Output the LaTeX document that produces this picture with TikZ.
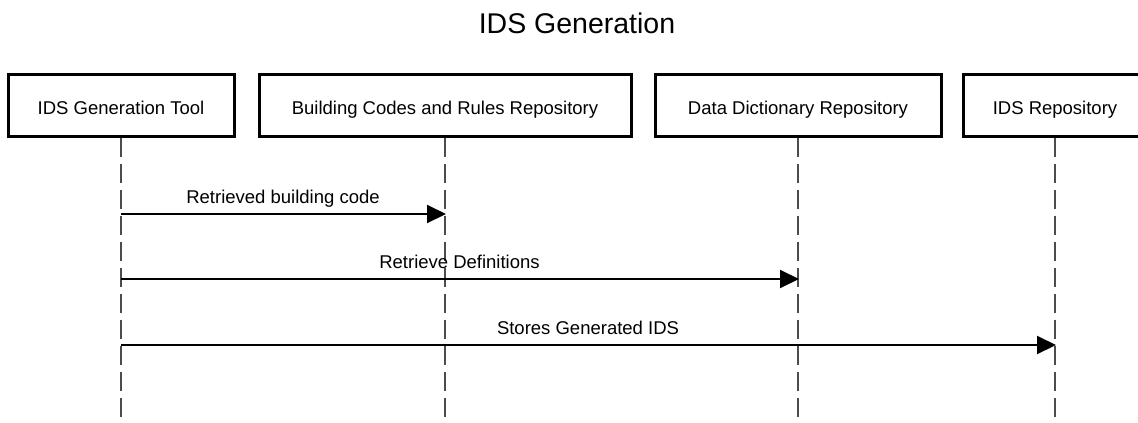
\documentclass[tikz,border=0pt]{standalone}
\usepackage{fontspec}
\setmainfont{Liberation Sans}
\usetikzlibrary{arrows.meta,positioning}

\tikzset{
	actor/.style={draw,line width=3pt,minimum height=62pt,inner sep=0pt,
		text height=18pt,text depth=0pt,font=\fontsize{18.5}{22}\selectfont},
	life/.style={draw=black!70,line width=2pt,dash pattern=on 19pt off 7pt},
	msg/.style={line width=2pt,-{Triangle[length=19pt,width=18pt]},shorten >=-1pt},
	msglabel/.style={above=10pt,inner sep=0pt,text depth=0pt,
		font=\fontsize{18.5}{22}\selectfont}
}

\begin{document}
\begin{tikzpicture}[x=1pt,y=-1pt]
	\useasboundingbox (0,0) rectangle (1138,423);
	\node (title) at (577,23) {\fontsize{28.5}{32}\selectfont IDS Generation};
	% participants
	\node[actor,minimum width=226pt] (tool)    at (121,105)  {IDS Generation Tool};
	\node[actor,minimum width=372pt] (codes)   at (445,105)  {Building Codes and Rules Repository};
	\node[actor,minimum width=286pt] (dict)    at (798,105)  {Data Dictionary Repository};
	\node[actor,minimum width=184pt] (idsrepo) at (1055,105) {IDS Repository};
	% lifelines
	\coordinate (bottom) at (0,425);
	\foreach \p in {tool,codes,dict,idsrepo}
		\draw[life] (\p.south) -- (\p |- bottom);
	% messages
	\coordinate (m1) at (0,214);
	\coordinate (m2) at (0,279);
	\coordinate (m3) at (0,345);
	\draw[msg] (tool |- m1) -- node[msglabel] {Retrieved building code} (codes |- m1);
	\draw[msg] (tool |- m2) -- node[msglabel] {Retrieve Definitions} (dict |- m2);
	\draw[msg] (tool |- m3) -- node[msglabel] {Stores Generated IDS} (idsrepo |- m3);
\end{tikzpicture}
\end{document}
